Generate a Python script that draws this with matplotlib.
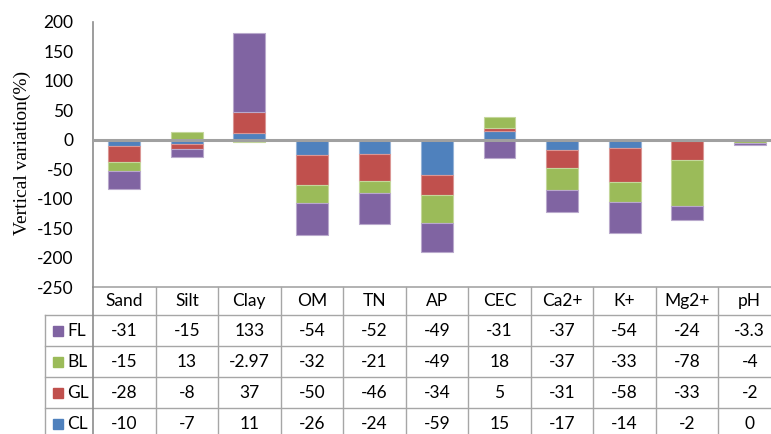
import matplotlib
matplotlib.use('Agg')
import matplotlib.pyplot as plt
import numpy as np

categories = ['Sand', 'Silt', 'Clay', 'OM', 'TN', 'AP', 'CEC', 'Ca2+', 'K+', 'Mg2+', 'pH']
series_names = ['FL', 'BL', 'GL', 'CL']
FL = [-31, -15, 133, -54, -52, -49, -31, -37, -54, -24, -3.3]
BL = [-15, 13, -2.97, -32, -21, -49, 18, -37, -33, -78, -4]
GL = [-28, -8, 37, -50, -46, -34, 5, -31, -58, -33, -2]
CL = [-10, -7, 11, -26, -24, -59, 15, -17, -14, -2, 0]
FL_text = ['-31', '-15', '133', '-54', '-52', '-49', '-31', '-37', '-54', '-24', '-3.3']
BL_text = ['-15', '13', '-2.97', '-32', '-21', '-49', '18', '-37', '-33', '-78', '-4']
GL_text = ['-28', '-8', '37', '-50', '-46', '-34', '5', '-31', '-58', '-33', '-2']
CL_text = ['-10', '-7', '11', '-26', '-24', '-59', '15', '-17', '-14', '-2', '0']
yticks = [200, 150, 100, 50, 0, -50, -100, -150, -200, -250]
ylabel = 'Vertical variation(%)'

colors = {'FL': '#8064A2', 'BL': '#9BBB59', 'GL': '#C0504D', 'CL': '#4F81BD'}
edges = {'FL': '#B9A9CC', 'BL': '#C4D79B', 'GL': '#DA9694', 'CL': '#95B3D7'}
values = {'FL': FL, 'BL': BL, 'GL': GL, 'CL': CL}
texts = {'FL': FL_text, 'BL': BL_text, 'GL': GL_text, 'CL': CL_text}

W, H = 771, 434
fig = plt.figure(figsize=(W / 100, H / 100), dpi=100)

def fx(px):
    return px / W

def fy(py):
    return 1 - py / H

font = ['Lato', 'DejaVu Sans']
fs = 12.5
gray = '#8C8C8C'
tgray = '#A6A6A6'

ax_l, ax_r, ax_t, ax_b = 93, 781, 22, 287
ax = fig.add_axes([fx(ax_l), fy(ax_b), fx(ax_r) - fx(ax_l), fy(ax_t) - fy(ax_b)])
x = np.arange(len(categories))
pos_bottom = np.zeros(len(categories))
neg_bottom = np.zeros(len(categories))
for name in ['CL', 'GL', 'BL', 'FL']:
    v = np.array(values[name], dtype=float)
    bottom = np.where(v >= 0, pos_bottom, neg_bottom)
    ax.bar(x, v, width=0.51, bottom=bottom, color=colors[name],
           edgecolor=edges[name], linewidth=0.8, zorder=2)
    pos_bottom += np.where(v >= 0, v, 0)
    neg_bottom += np.where(v < 0, v, 0)

ax.set_xlim(-0.5, len(categories) - 0.5)
ax.set_ylim(-250, 200)
ax.set_yticks(yticks)
ax.set_yticklabels([str(t) for t in yticks], family=font, fontsize=fs)
ax.tick_params(axis='y', length=0, pad=14)
ax.set_xticks([])
for s in ['top', 'right', 'bottom']:
    ax.spines[s].set_visible(False)
ax.spines['left'].set_color(gray)
ax.spines['left'].set_linewidth(1.2)
ax.axhline(0, color='#A0A0A0', linewidth=2.2, zorder=3)
fig.text(fx(22), fy(153), ylabel, rotation=90, ha='center', va='center',
         family=['Liberation Serif', 'DejaVu Serif'], fontsize=14)

# data table
tax = fig.add_axes([fx(ax_l), 0, fx(ax_r) - fx(ax_l), fy(ax_b)])
tax.set_xlim(-0.5, len(categories) - 0.5)
tax.set_ylim(H, ax_b)
tax.axis('off')
colw = (ax_r - ax_l) / len(categories)
x_left = -0.5 + (45 - ax_l) / colw
row_edges = [287, 315, 346, 377, 408, 439]
row_centers = [301, 331, 362, 393, 424]
lw = 1.0
tax.plot([-0.5, len(categories) - 0.5], [row_edges[0]] * 2, color=tgray, lw=1.2, clip_on=False)
for ye in row_edges[1:5]:
    tax.plot([x_left, len(categories) - 0.5], [ye, ye], color=tgray, lw=lw, clip_on=False)
for i in range(len(categories) + 1):
    tax.plot([i - 0.5, i - 0.5], [row_edges[0], H + 5], color=tgray if i else gray,
             lw=lw if i else 1.2, clip_on=False)
tax.plot([x_left, x_left], [row_edges[1], H + 5], color=tgray, lw=lw, clip_on=False)
for i, c in enumerate(categories):
    tax.text(i, row_centers[0], c, ha='center', va='center', family=font, fontsize=fs)
sq = 10 / colw
for r, name in enumerate(series_names):
    yc = row_centers[r + 1]
    tax.add_patch(plt.Rectangle((x_left + 8 / colw, yc - 5), sq, 10,
                                color=colors[name], clip_on=False))
    tax.text(x_left + 22 / colw, yc, name, ha='left', va='center', family=font, fontsize=fs)
    for i, t in enumerate(texts[name]):
        tax.text(i, yc, t, ha='center', va='center', family=font, fontsize=fs)

fig.savefig('out.png', dpi=100)
